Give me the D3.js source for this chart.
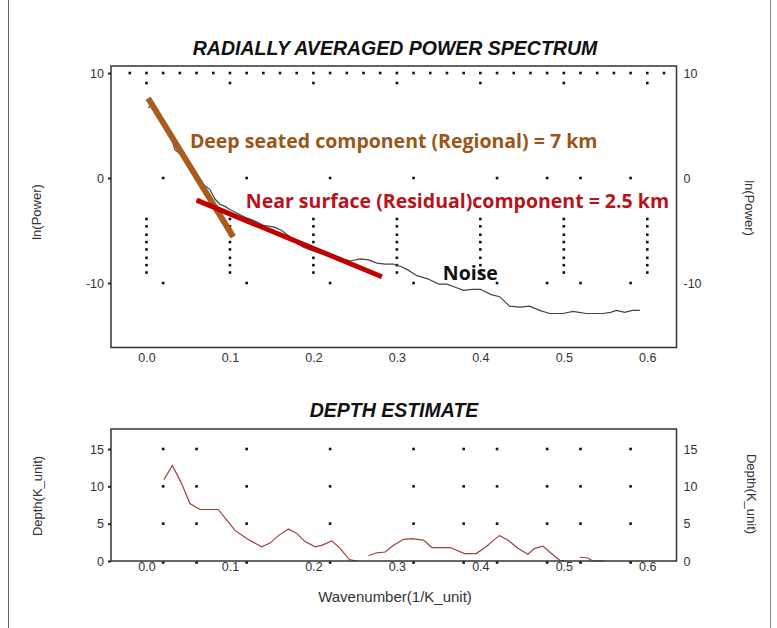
<!DOCTYPE html>
<html>
<head>
<meta charset="utf-8">
<script src="https://cdn.jsdelivr.net/npm/d3@7"></script>
<style>
  body { margin: 0; background: #fff; }
  svg { display: block; }
  .tick text { font-family: "Liberation Sans", Arial, sans-serif; font-size: 12.5px; fill: #333; }
  .title { font-family: "Liberation Sans", Arial, sans-serif; font-size: 19.5px; font-weight: bold; font-style: italic; fill: #111; }
  .axis-label { font-family: "Liberation Sans", Arial, sans-serif; font-size: 13px; fill: #333; }
  .x-label { font-size: 15px; }
  .note { font-family: "Open Sans", sans-serif; font-size: 19.5px; font-weight: bold; }
</style>
</head>
<body>
<svg id="chart" width="777" height="628"></svg>
<script>
// radially averaged power spectrum
var powerK = [0.002, 0.008, 0.016, 0.024, 0.030, 0.034, 0.040, 0.046, 0.052, 0.060, 0.068, 0.076, 0.082, 0.088, 0.094, 0.100,
  0.110, 0.120, 0.130, 0.140, 0.148, 0.154, 0.162, 0.172, 0.180, 0.188, 0.198, 0.210, 0.222, 0.234, 0.244, 0.256, 0.266,
  0.276, 0.286, 0.296, 0.304, 0.312, 0.324, 0.337, 0.350, 0.360, 0.370, 0.380, 0.390, 0.400, 0.413, 0.423, 0.435, 0.447,
  0.459, 0.471, 0.483, 0.499, 0.511, 0.527, 0.547, 0.556, 0.563, 0.573, 0.582, 0.591];
var powerLn = [6.7, 7.0, 5.6, 4.6, 3.8, 2.7, 2.3, 1.9, 0.8, 0.1, -0.6, -1.1, -2.0, -2.5, -2.7, -3.0,
  -3.4, -3.8, -4.1, -4.5, -4.6, -4.7, -5.0, -5.6, -6.2, -6.6, -6.9, -7.2, -7.4, -7.7, -7.9, -7.7, -7.8,
  -8.1, -8.2, -8.2, -8.4, -8.7, -9.3, -9.6, -10.1, -10.1, -10.4, -10.7, -10.6, -10.6, -11.1, -11.3, -12.2, -12.3,
  -12.2, -12.6, -12.9, -12.9, -12.7, -12.9, -12.9, -12.8, -12.6, -12.8, -12.6, -12.6];

// depth estimate (null = gap in the curve)
var depthK = [0.021, 0.031, 0.042, 0.052, 0.064, 0.086, 0.096, 0.106, 0.120, 0.138, 0.148, 0.158, 0.170, 0.180, 0.190,
  0.202, 0.210, 0.222, 0.232, 0.243, 0.252, 0.259, 0.266, 0.276, 0.286, 0.296, 0.308, 0.318, 0.332, 0.342, 0.364, 0.381,
  0.395, 0.407, 0.417, 0.423, 0.433, 0.445, 0.457, 0.465, 0.475, 0.483, 0.495, 0.502, 0.510, 0.519, 0.529, 0.535, 0.549];
var depthVal = [10.9, 12.8, 10.4, 7.7, 6.9, 6.9, 5.5, 4.1, 3.0, 1.9, 2.4, 3.4, 4.3, 3.7, 2.6,
  1.9, 2.1, 2.7, 1.7, 0.2, 0, null, 0.7, 1.1, 1.2, 2.1, 2.9, 3.0, 2.8, 1.8, 1.8, 1.0,
  1.0, 1.9, 2.9, 3.4, 2.8, 1.7, 0.9, 1.7, 2.0, 1.2, 0.1, 0, null, 0.5, 0.4, 0, 0];

// ticks
var kTicks = [0, 0.1, 0.2, 0.3, 0.4, 0.5, 0.6];
var powerTicks = [-10, 0, 10];
var depthTicks = [0, 5, 10, 15];

// dotted grid marks left by the plotting program
var topRowK = d3.range(-0.02, 0.63, 0.02);
var sparseK = [0.02, 0.12, 0.22, 0.32, 0.42, 0.48, 0.52, 0.58];
var sparseRows = [0, -10];
var columnDots = [-3.9, -4.6, -5.4, -6.1, -6.8, -7.6, -8.3, -9.0];
var depthDotK = [0.02, 0.06, 0.12, 0.22, 0.32, 0.38, 0.42, 0.48, 0.52, 0.58];

// interpreted straight-line segments and notes
var fitLines = [
  { name: "regional", k: [0.002, 0.104], ln: [7.6, -5.6], color: "#a85c1e", width: 6 },
  { name: "residual", k: [0.060, 0.282], ln: [-2.1, -9.4], color: "#c00000", width: 5 }
];
var notes = [
  { text: "Deep seated component (Regional) = 7 km", k: 0.052, ln: 2.85, color: "#9a5518" },
  { text: "Near surface (Residual)component = 2.5 km", k: 0.119, ln: -2.9, color: "#b8121b" },
  { text: "Noise", k: 0.355, ln: -9.7, color: "#111" }
];

var svg = d3.select("#chart");

// outer page border
svg.append("line").attr("x1", 8.5).attr("x2", 8.5).attr("y1", 0).attr("y2", 628).attr("stroke", "#666");
svg.append("line").attr("x1", 770.5).attr("x2", 770.5).attr("y1", 0).attr("y2", 628).attr("stroke", "#888");

var left = 111, right = 676.5;
var x = d3.scaleLinear().domain([-0.0425, 0.635]).range([left, right]);
var yP = d3.scaleLinear().domain([-16.14, 10.67]).range([347.5, 66]);
var yD = d3.scaleLinear().domain([0, 17.68]).range([561, 429]);
var plain = function(d) { return String(d); }; // hyphen minus, like the original

function dots(g, pts) {
  g.selectAll("rect.dot")
    .data(pts)
    .enter()
    .append("rect")
    .attr("class", "dot")
    .attr("x", function(d) { return d[0] - 1.3; })
    .attr("y", function(d) { return d[1] - 1.3; })
    .attr("width", 2.6)
    .attr("height", 2.6)
    .attr("fill", "#111");
}

function axes(yScale, ticks, top, bottom, labelPad) {
  var gl = svg.append("g").attr("transform", "translate(" + left + ",0)")
    .call(d3.axisLeft(yScale).tickValues(ticks).tickSize(3).tickPadding(4).tickFormat(plain));
  gl.select(".domain").remove();
  gl.selectAll(".tick line").attr("stroke", "#222").attr("stroke-width", 2);

  var gr = svg.append("g").attr("transform", "translate(" + right + ",0)")
    .call(d3.axisRight(yScale).tickValues(ticks).tickSize(0).tickPadding(7).tickFormat(plain));
  gr.select(".domain").remove();

  var gb = svg.append("g").attr("transform", "translate(0," + bottom + ")")
    .call(d3.axisBottom(x).tickValues(kTicks).tickSize(0).tickPadding(labelPad).tickFormat(d3.format(".1f")));
  gb.select(".domain").remove();

  svg.append("rect")
    .attr("x", left).attr("y", top)
    .attr("width", right - left).attr("height", bottom - top)
    .attr("fill", "none").attr("stroke", "#333").attr("stroke-width", 1.5);
}

/* top panel: power spectrum */
var gTop = svg.append("g");
var topPts = [];
topRowK.forEach(function(k) { topPts.push([x(k), yP(10)]); });
kTicks.forEach(function(k) { topPts.push([x(k), yP(9.05)]); });
sparseRows.forEach(function(r) {
  sparseK.forEach(function(k) { topPts.push([x(k), yP(r)]); });
});
kTicks.forEach(function(k) {
  columnDots.forEach(function(v) { topPts.push([x(k), yP(v)]); });
});
dots(gTop, topPts);

axes(yP, powerTicks, 66, 347.5, 6);

var powerLine = d3.line()
  .x(function(d, i) { return x(powerK[i]); })
  .y(function(d) { return yP(d); });
gTop.append("path")
  .attr("d", powerLine(powerLn))
  .attr("fill", "none")
  .attr("stroke", "#444")
  .attr("stroke-width", 1.2);

fitLines.forEach(function(f) {
  gTop.append("line")
    .attr("x1", x(f.k[0])).attr("y1", yP(f.ln[0]))
    .attr("x2", x(f.k[1])).attr("y2", yP(f.ln[1]))
    .attr("stroke", f.color)
    .attr("stroke-width", f.width);
});

gTop.selectAll("text.note")
  .data(notes)
  .enter()
  .append("text")
  .attr("class", "note")
  .attr("x", function(d) { return x(d.k); })
  .attr("y", function(d) { return yP(d.ln); })
  .attr("fill", function(d) { return d.color; })
  .text(function(d) { return d.text; });

svg.append("text").attr("class", "title")
  .attr("x", 395).attr("y", 55).attr("text-anchor", "middle")
  .text("RADIALLY AVERAGED POWER SPECTRUM");

/* bottom panel: depth estimate */
var gBot = svg.append("g");
var botPts = [];
depthTicks.forEach(function(r) {
  depthDotK.forEach(function(k) { botPts.push([x(k), yD(r) + (r === 0 ? 1.5 : 0)]); });
});
dots(gBot, botPts);

axes(yD, depthTicks, 429, 561, 1);

var depthLine = d3.line()
  .defined(function(d) { return d !== null; })
  .x(function(d, i) { return x(depthK[i]); })
  .y(function(d) { return yD(d); });
gBot.append("path")
  .attr("d", depthLine(depthVal))
  .attr("fill", "none")
  .attr("stroke", "#a0403c")
  .attr("stroke-width", 1.2);

svg.append("text").attr("class", "title")
  .attr("x", 394).attr("y", 417).attr("text-anchor", "middle")
  .text("DEPTH ESTIMATE");

/* axis titles */
function vLabel(txt, cx, cy, rot) {
  svg.append("text").attr("class", "axis-label")
    .attr("transform", "translate(" + cx + "," + cy + ") rotate(" + rot + ")")
    .attr("text-anchor", "middle")
    .attr("dy", "0.35em")
    .text(txt);
}
vLabel("ln(Power)", 36, 212, -90);
vLabel("ln(Power)", 750, 208, 90);
vLabel("Depth(K_unit)", 37, 496, -90);
vLabel("Depth(K_unit)", 752, 494, 90);

svg.append("text").attr("class", "axis-label x-label")
  .attr("x", 395).attr("y", 602).attr("text-anchor", "middle")
  .text("Wavenumber(1/K_unit)");
</script>
</body>
</html>
